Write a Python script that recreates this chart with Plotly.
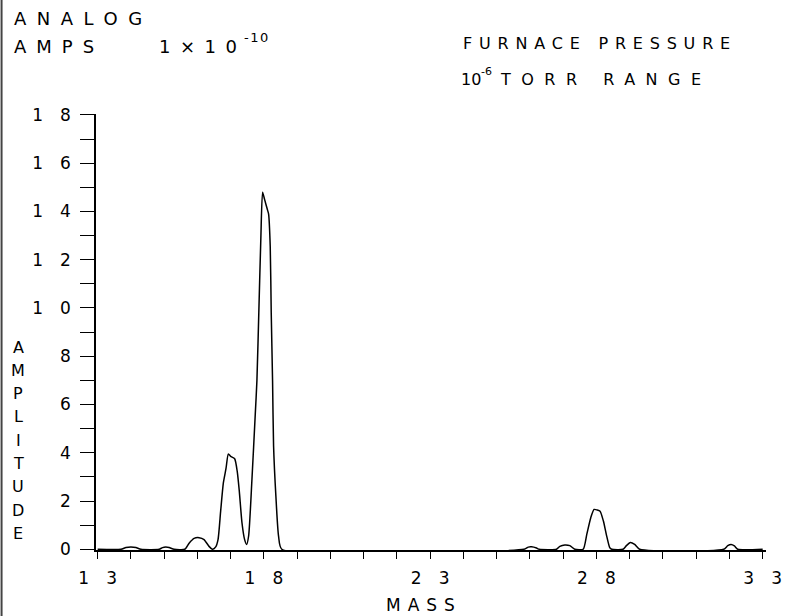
import plotly.graph_objects as go

# ---- data ----
mass = [13.0, 13.7, 13.85, 14.0, 14.15, 14.3,
        14.85, 14.95, 15.05, 15.15, 15.3,
        15.62, 15.75, 15.9, 16.05, 16.2, 16.35, 16.45,
        16.55, 16.62, 16.7, 16.78, 16.86, 16.93, 17.0, 17.12, 17.2, 17.26, 17.34, 17.42, 17.48,
        17.54, 17.64, 17.74, 17.79, 17.85, 17.91, 17.96, 18.02, 18.1, 18.14, 18.19, 18.22,
        18.26, 18.29, 18.36, 18.44, 18.54,
        25.82, 25.95, 26.05, 26.2, 26.28,
        26.8, 26.9, 27.05, 27.2, 27.35,
        27.6, 27.71, 27.83, 27.93, 28.02, 28.11, 28.21, 28.3, 28.4, 28.46,
        28.8, 28.9, 29.02, 29.15, 29.3,
        31.83, 31.95, 32.05, 32.15, 32.25,
        33.0]
amplitude = [0, 0, 0.07, 0.09, 0.07, 0,
             0, 0.07, 0.09, 0.07, 0,
             0, 0.25, 0.45, 0.48, 0.4, 0.12, 0.0,
             0.1, 0.4, 1.6, 2.75, 3.35, 3.95, 3.85, 3.75, 3.2, 2.4, 1.1, 0.4, 0.2,
             0.55, 2.9, 5.6, 7.0, 10.0, 13.0, 14.8, 14.5, 14.1, 13.9, 12.55, 9.8,
             7.0, 4.3, 2.2, 0.55, 0,
             0, 0.09, 0.1, 0.05, 0,
             0, 0.12, 0.18, 0.15, 0,
             0, 0.62, 1.31, 1.65, 1.63, 1.58, 1.17, 0.6, 0.07, 0,
             0, 0.15, 0.28, 0.2, 0,
             0, 0.15, 0.2, 0.14, 0,
             0]

x_tick_vals = list(range(13, 34))
x_tick_text = ["1\u20033" if v == 13 else "1\u20038" if v == 18 else "2\u20033" if v == 23
               else "2\u20038" if v == 28 else "3\u20033" if v == 33 else "" for v in x_tick_vals]
y_tick_vals = list(range(0, 19))
y_tick_text = [("\u2003".join(str(v)) if v % 2 == 0 else "") for v in y_tick_vals]

FONT = "DejaVu Sans"

fig = go.Figure()
fig.add_trace(go.Scatter(x=mass, y=amplitude, mode="lines",
                         line=dict(color="black", width=1.5, shape="spline", smoothing=0.6),
                         hoverinfo="skip", showlegend=False))

PL, PR, PT, PB = 96, 770, 114, 550


def px(x):
    return (x - PL) / (PR - PL)


def py(y):
    return (PB - y) / (PB - PT)


def label(text, x, y, size, spacing=0, anchor="left"):
    t = text if spacing == 0 else f'<span style="letter-spacing:{spacing}px">{text}</span>'
    fig.add_annotation(text=t, x=px(x), y=py(y), xref="paper", yref="paper",
                       xanchor=anchor, yanchor="middle", showarrow=False,
                       font=dict(family=FONT, size=size, color="black"))


label("ANALOG", 12, 19, 18, 10.5)
label("AMPS", 12, 47, 18, 10)
label("1×10", 157, 47, 18, 9.5)
label("-10", 243, 38, 13, 1.5)
label("FURNACE PRESSURE", 463, 43, 16, 6.8)
label("10", 461, 79, 16)
label("-6", 481, 71, 11)
label("TORR RANGE", 500, 79, 16, 10.5)
label("MASS", 386, 605, 17, 7)
for i, ch in enumerate("AMPLITUDE"):
    label(ch, 18, 347 + i * 23.3, 16, 0, "center")

fig.add_shape(type="line", xref="paper", yref="paper",
              x0=px(1), x1=px(1), y0=py(616), y1=py(0),
              line=dict(color="#444", width=2))

fig.update_layout(
    width=794, height=616,
    margin=dict(l=PL, r=794 - PR, t=PT, b=616 - PB),
    paper_bgcolor="white", plot_bgcolor="white",
    font=dict(family=FONT, size=17, color="black"),
    xaxis=dict(range=[12.95, 33.1], tickmode="array", tickvals=x_tick_vals, ticktext=x_tick_text,
               ticks="outside", ticklen=7, tickwidth=1.3, tickcolor="black",
               showline=True, linecolor="black", linewidth=1.5, showgrid=False, zeroline=False,
               ticklabelstandoff=5, tickfont=dict(size=17)),
    yaxis=dict(range=[-0.03, 18.04], tickmode="array", tickvals=y_tick_vals, ticktext=y_tick_text,
               ticks="outside", ticklen=14, tickwidth=1.3, tickcolor="black",
               showline=True, linecolor="black", linewidth=1.5, showgrid=False, zeroline=False,
               ticklabelstandoff=6, tickfont=dict(size=17)),
)

fig.write_html("out.html", config={"displayModeBar": False},
               post_script="document.body.style.margin='0px';document.body.style.overflow='hidden';")
